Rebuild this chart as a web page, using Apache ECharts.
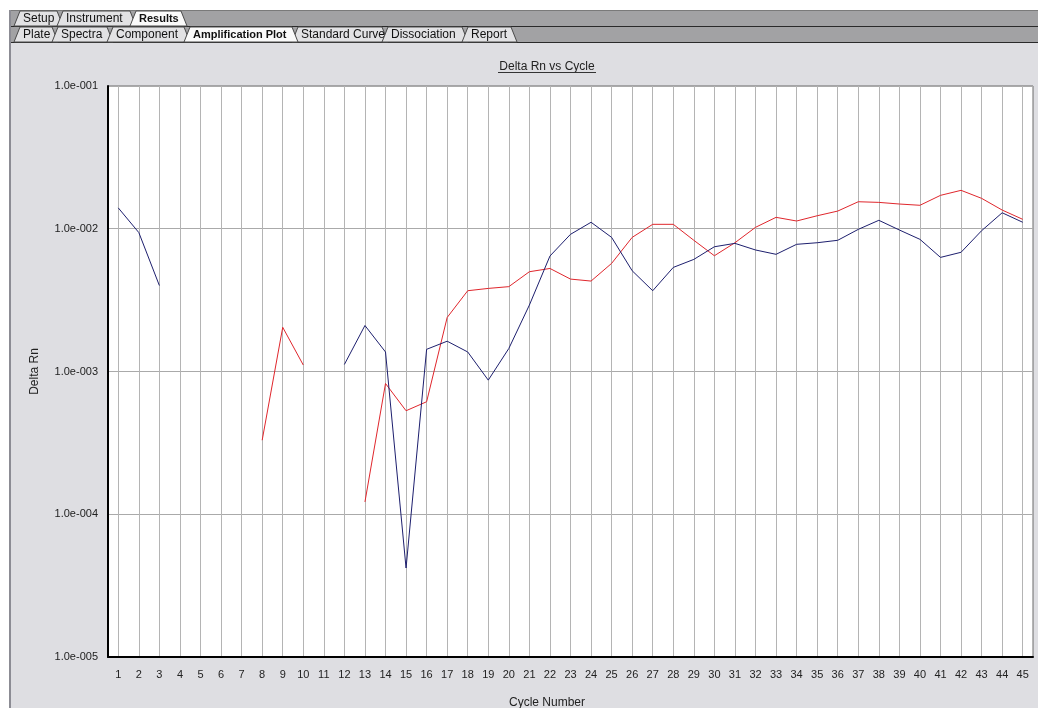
<!DOCTYPE html>
<html>
<head>
<meta charset="utf-8">
<title>Delta Rn vs Cycle</title>
<script src="https://cdn.jsdelivr.net/npm/echarts@6/dist/echarts.min.js"></script>
<style>
  html, body { margin: 0; padding: 0; background: #ffffff; }
  #chart { width: 1038px; height: 708px; }
</style>
</head>
<body>
<div id="chart"></div>
<script>
const cycles = [
  "1", "2", "3", "4", "5", "6", "7", "8", "9", "10", "11", "12", "13", "14", "15",
  "16", "17", "18", "19", "20", "21", "22", "23", "24", "25", "26", "27", "28", "29", "30",
  "31", "32", "33", "34", "35", "36", "37", "38", "39", "40", "41", "42", "43", "44", "45"
];

// navy trace, gaps where the software dropped points
const blueRn = [
  0.0140, 0.0094, 0.0040, null, null, null, null, null, null, null, null,
  0.00112, 0.0021, 0.00137, 0.000042, 0.00143, 0.00163, 0.00137, 0.00087, 0.00145, 0.00292,
  0.00644, 0.00914, 0.0111, 0.0087, 0.00508, 0.00368, 0.00536, 0.0061, 0.00748, 0.0079,
  0.0071, 0.00662, 0.00778, 0.00798, 0.0083, 0.0099, 0.01146, 0.0098, 0.00843, 0.0063,
  0.00684, 0.00969, 0.01294, 0.0111
];

const redRn = [
  null, null, null, null, null, null, null, 0.00033, 0.00204, 0.00111, null, null,
  0.000122, 0.000824, 0.000531, 0.000614, 0.00239, 0.00368, 0.00382, 0.00393, 0.0050,
  0.00527, 0.00444, 0.0043, 0.00572, 0.0087, 0.01074, 0.01074, 0.0083, 0.00647, 0.00798,
  0.01023, 0.01202, 0.01133, 0.01233, 0.0133, 0.01546, 0.0153, 0.0149, 0.0146, 0.01714,
  0.01858, 0.01633, 0.01352, 0.01164
];

const topTabs = ["Setup", "Instrument", "Results"];
const subTabs = ["Plate", "Spectra", "Component", "Amplification Plot", "Standard Curve", "Dissociation", "Report"];

const FONT = "'Liberation Sans', Arial, sans-serif";

function expLabel(v) {
  const e = Math.round(Math.log10(v));
  return "1.0e" + (e < 0 ? "-" : "+") + String(Math.abs(e)).padStart(3, "0");
}

// tab strip: [left, right] edges of each tab
function tabShapes(names, edges, yTop, yBottom, activeName) {
  const out = [];
  let active = null;
  names.forEach((name, i) => {
    const [l, r] = edges[i];
    const isActive = name === activeName;
    const poly = {
      type: "polygon",
      shape: {
        points: [[l - 3, yBottom], [l + 3, yTop + 1], [r - 3, yTop + 1], [r + 3, yBottom]]
      },
      style: { fill: isActive ? "#fafafa" : "#e2e2e4", stroke: "#4a4a4a", lineWidth: 1 },
      z: isActive ? 12 : 10
    };
    const txt = {
      type: "text",
      x: l + 6,
      y: (yTop + yBottom) / 2 + 1,
      style: {
        text: name,
        font: isActive ? "bold 11px " + FONT : "12px " + FONT,
        fill: "#111",
        verticalAlign: "middle"
      },
      z: isActive ? 13 : 11
    };
    if (isActive) active = [poly, txt];
    else out.push(poly, txt);
  });
  if (active) out.push(...active);
  return out;
}

const chart = echarts.init(document.getElementById("chart"));

chart.setOption({
  backgroundColor: "#ffffff",
  animation: false,
  textStyle: { fontFamily: FONT },
  grid: {
    left: 108,
    right: 5,
    top: 86,
    bottom: 51,
    show: true,
    backgroundColor: "#ffffff",
    borderColor: "#6a6a6a",
    borderWidth: 1
  },
  xAxis: {
    type: "category",
    data: cycles,
    boundaryGap: true,
    axisLine: { lineStyle: { color: "#000", width: 2 } },
    axisTick: { show: false },
    axisLabel: { interval: 0, color: "#222", fontSize: 11, margin: 12 },
    splitLine: { show: true, interval: 0, alignWithLabel: true, lineStyle: { color: "#b4b4b4", width: 1 } }
  },
  yAxis: {
    type: "log",
    logBase: 10,
    min: 1e-5,
    max: 1e-1,
    name: "Delta Rn",
    nameLocation: "middle",
    nameGap: 67,
    nameTextStyle: { color: "#222", fontSize: 12 },
    axisLine: { show: true, lineStyle: { color: "#000", width: 2 } },
    axisTick: { show: false },
    axisLabel: { color: "#222", fontSize: 11, margin: 10, formatter: expLabel },
    splitLine: { show: true, lineStyle: { color: "#aaaaaa", width: 1 } }
  },
  series: [
    {
      name: "Red",
      type: "line",
      data: redRn,
      symbol: "none",
      lineStyle: { color: "#e0262c", width: 1 },
      itemStyle: { color: "#e0262c" }
    },
    {
      name: "Blue",
      type: "line",
      data: blueRn,
      symbol: "none",
      lineStyle: { color: "#1d1f6e", width: 1 },
      itemStyle: { color: "#1d1f6e" }
    }
  ],
  graphic: [
    // panel behind the plot
    { type: "rect", shape: { x: 10, y: 42, width: 1028, height: 666 }, style: { fill: "#dedee2" }, z: -10, silent: true },
    { type: "rect", shape: { x: 9, y: 10, width: 2, height: 698 }, style: { fill: "#8c8c94" }, z: 5, silent: true },
    // tab strip background
    { type: "rect", shape: { x: 10, y: 10, width: 1028, height: 32 }, style: { fill: "#a2a2a4" }, z: 1, silent: true },
    { type: "line", shape: { x1: 10, y1: 10.5, x2: 1038, y2: 10.5 }, style: { stroke: "#7a7a7a", lineWidth: 1 }, z: 2 },
    { type: "line", shape: { x1: 10, y1: 26.5, x2: 1038, y2: 26.5 }, style: { stroke: "#2a2a2a", lineWidth: 1 }, z: 2 },
    { type: "line", shape: { x1: 10, y1: 42.5, x2: 1038, y2: 42.5 }, style: { stroke: "#2a2a2a", lineWidth: 1 }, z: 2 },
    ...tabShapes(topTabs, [[17, 60], [60, 133], [133, 184]], 10, 26, "Results"),
    ...tabShapes(subTabs, [[17, 55], [55, 110], [110, 187], [187, 295], [295, 385], [385, 465], [465, 514]], 26, 42, "Amplification Plot"),
    // chart title, underlined
    {
      type: "text", x: 547, y: 67,
      style: { text: "Delta Rn vs Cycle", font: "12px " + FONT, fill: "#222", align: "center", verticalAlign: "middle" },
      z: 20
    },
    { type: "line", shape: { x1: 498, y1: 72.5, x2: 596, y2: 72.5 }, style: { stroke: "#333", lineWidth: 1 }, z: 20 },
    {
      type: "text", x: 547, y: 703,
      style: { text: "Cycle Number", font: "12px " + FONT, fill: "#222", align: "center", verticalAlign: "middle" },
      z: 20
    }
  ]
});
</script>
</body>
</html>
